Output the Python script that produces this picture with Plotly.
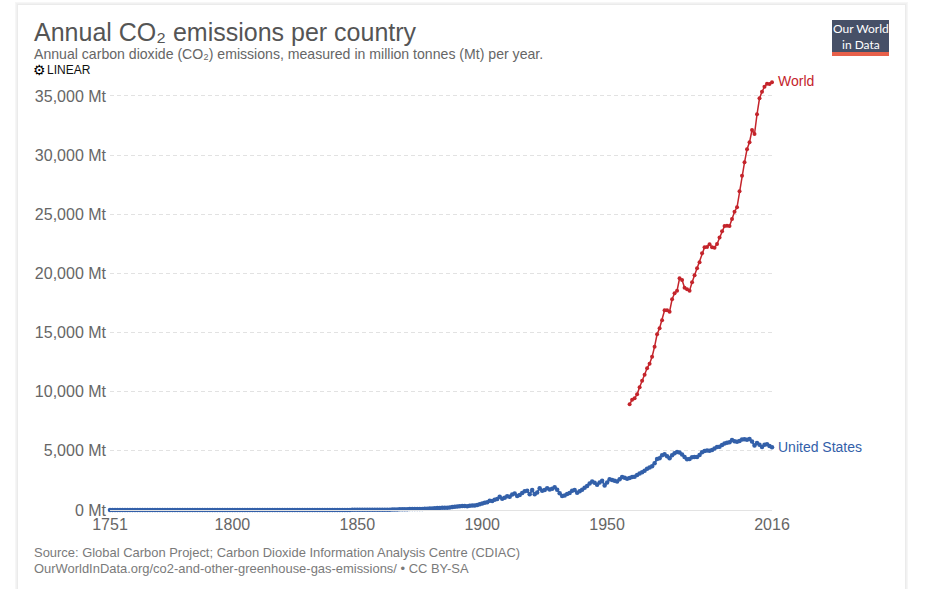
import plotly.graph_objects as go

WIDTH, HEIGHT = 949, 589
PLOT_L, PLOT_R, PLOT_T, PLOT_B = 110, 772, 60, 510
years_us = list(range(1751, 2017))
years_world = list(range(1959, 2017))

world = [8936, 9325, 9443, 9781, 10373, 10931, 11438, 11979, 12368, 12960, 13806,
         14854, 15361, 16037, 16883, 16883, 16764, 17813, 18320, 18540, 19588,
         19444, 18793, 18658, 18540, 19250, 19841, 20433, 20941, 21701, 22209,
         22234, 22462, 22209, 22175, 22488, 23029, 23561, 24009, 24035, 24009,
         24601, 25219, 25590, 26943, 28262, 29395, 30494, 31085, 32125, 31787,
         33452, 34805, 35363, 35786, 36040, 36014, 36158]

us = [0, 0, 0, 0, 0, 0, 0, 0, 0,
      0, 0, 0, 0, 0, 0, 0, 0, 0, 0,
      0, 0, 0, 0, 0, 0, 0, 0, 0, 0,
      0, 0, 0, 0, 0, 0, 0, 0, 0, 0,
      0, 0, 0, 0, 0, 0, 0, 0, 0, 0,
      0.3, 0.3, 0.3, 0.4, 0.4, 0.4, 0.5, 0.5, 0.6, 0.6,
      0.7, 0.7, 0.8, 0.8, 0.9, 1, 1, 1, 1.2, 1.3,
      1.4, 1.5, 1.6, 1.7, 1.8, 2, 2, 2.2, 2.4, 2.6,
      2.8, 3, 3.2, 3.4, 3.6, 4, 4.2, 4.5, 4.8, 5,
      5.4, 6, 6.5, 7, 7.5, 8, 9, 10, 11, 12,
      13, 14, 15, 16, 17, 18, 19, 20, 20, 20,
      20, 25, 28, 30, 35, 40, 45, 55, 60, 65,
      70, 75, 85, 90, 90, 90, 95, 100, 110, 120,
      135, 150, 165, 175, 180, 185, 200, 220, 250, 270,
      300, 320, 345, 340, 320, 350, 370, 380, 430, 490,
      560, 610, 650, 790, 770, 860, 930, 1130, 960, 1040,
      1170, 1120, 1300, 1390, 1190, 1260, 1440, 1580, 1620, 1330,
      1700, 1340, 1480, 1840, 1620, 1700, 1840, 1740, 1800, 1920,
      1710, 1410, 1180, 1230, 1350, 1440, 1620, 1700, 1450, 1580,
      1720, 1880, 2020, 2250, 2400, 2300, 2130, 2330, 2480, 2080,
      2330, 2590, 2530, 2480, 2400, 2600, 2800, 2720, 2640, 2700,
      2800, 2820, 2950, 3080, 3200, 3320, 3490, 3600, 3690, 3950,
      4320, 4380, 4620, 4720, 4550, 4380, 4620, 4800, 4900, 4870,
      4700, 4480, 4290, 4310, 4470, 4480, 4480, 4650, 4880, 4980,
      5040, 5000, 5080, 5200, 5320, 5350, 5500, 5620, 5680, 5720,
      5920, 5810, 5780, 5830, 5950, 5980, 5930, 6000, 5800, 5450,
      5670, 5510, 5320, 5510, 5560, 5400, 5300]

y_ticks = [0, 5000, 10000, 15000, 20000, 25000, 30000, 35000]
x_ticks = [1751, 1800, 1850, 1900, 1950, 2016]

RED = "#c4242b"
BLUE = "#3360a9"


def px(x):
    return (x - PLOT_L) / (PLOT_R - PLOT_L)


def py(y):
    return (PLOT_B - y) / (PLOT_B - PLOT_T)


fig = go.Figure()
fig.add_trace(go.Scatter(x=years_us, y=us, mode="lines+markers", cliponaxis=False,
                         line=dict(color=BLUE, width=2), marker=dict(color=BLUE, size=4.5),
                         showlegend=False, hoverinfo="skip"))
fig.add_trace(go.Scatter(x=years_world, y=world, mode="lines+markers", cliponaxis=False,
                         line=dict(color=RED, width=1.5), marker=dict(color=RED, size=4),
                         showlegend=False, hoverinfo="skip"))

shapes = []
for grow, col in [(3, "#f6f6f6"), (2, "#f1f1f1"), (1, "#ebebeb")]:
    shapes.append(dict(type="rect", xref="paper", yref="paper", layer="below",
                       x0=px(18 - grow), x1=px(905 + grow), y0=py(589), y1=py(5 - grow),
                       line_width=0, fillcolor=col))
shapes.append(dict(type="rect", xref="paper", yref="paper", layer="below",
                   x0=px(18), x1=px(905), y0=py(589), y1=py(5),
                   line_width=0, fillcolor="white"))
shapes.append(dict(type="rect", xref="paper", yref="paper", x0=px(832), x1=px(889),
                   y0=py(52), y1=py(20), line_width=0, fillcolor="#465067"))
shapes.append(dict(type="rect", xref="paper", yref="paper", x0=px(832), x1=px(889),
                   y0=py(56), y1=py(52), line_width=0, fillcolor="#e8604a"))


def text(x, y, s, size, color, anchor="left", family="Liberation Sans"):
    return dict(xref="paper", yref="paper", x=px(x), y=py(y), text=s, showarrow=False,
                xanchor=anchor, yanchor="middle", align=anchor, borderpad=0, borderwidth=0,
                font=dict(size=size, color=color, family=family))


annotations = [
    text(34, 32, "Annual CO₂ emissions per country", 25, "#555555"),
    text(34, 54, "Annual carbon dioxide (CO₂) emissions, measured in million tonnes (Mt) per year.", 14.1, "#666666"),
    text(33, 70, "⚙", 14, "#000000", family="DejaVu Sans"),
    text(47, 70, "LINEAR", 12, "#111111"),
    text(34, 552, "Source: Global Carbon Project; Carbon Dioxide Information Analysis Centre (CDIAC)", 12.95, "#7a7a7a"),
    text(34, 568, "OurWorldInData.org/co2-and-other-greenhouse-gas-emissions/ • CC BY-SA", 12.95, "#7a7a7a"),
    text(860.5, 29, "Our World", 12, "#ffffff", "center", "Lato"),
    text(860.5, 44, "in Data", 12, "#ffffff", "center", "Lato"),
    dict(x=years_world[-1], y=world[-1], xref="x", yref="y", text="World", showarrow=False,
         xanchor="left", yanchor="middle", xshift=4, yshift=1, font=dict(size=14, color=RED, family="Liberation Sans")),
    dict(x=years_us[-1], y=us[-1], xref="x", yref="y", text="United States", showarrow=False,
         xanchor="left", yanchor="middle", xshift=4, font=dict(size=14, color=BLUE, family="Liberation Sans")),
]

fig.update_layout(
    width=WIDTH, height=HEIGHT,
    autosize=False,
    margin=dict(l=PLOT_L, r=WIDTH - PLOT_R, t=PLOT_T, b=HEIGHT - PLOT_B, pad=0),
    paper_bgcolor="white", plot_bgcolor="rgba(0,0,0,0)",
    font=dict(family="Liberation Sans"),
    shapes=shapes, annotations=annotations,
    xaxis=dict(range=[1751, 2016], tickmode="array", tickvals=x_ticks,
               ticktext=[str(v) for v in x_ticks], showgrid=False, zeroline=False,
               showline=True, linecolor="#e3e3e3", linewidth=1,
               ticks="", tickfont=dict(size=16, color="#666666")),
    yaxis=dict(range=[0, 38043], tickmode="array", tickvals=y_ticks,
               ticktext=[f"{v:,} Mt" for v in y_ticks], showgrid=True,
               griddash="4px,3px", gridcolor="#e2e2e2", gridwidth=1, zeroline=False,
               ticks="", ticklabelstandoff=3, tickfont=dict(size=16, color="#666666")),
)
fig.write_html("out.html", config={"displayModeBar": False},
               post_script="document.body.style.margin='0';document.body.style.overflow='hidden';")
